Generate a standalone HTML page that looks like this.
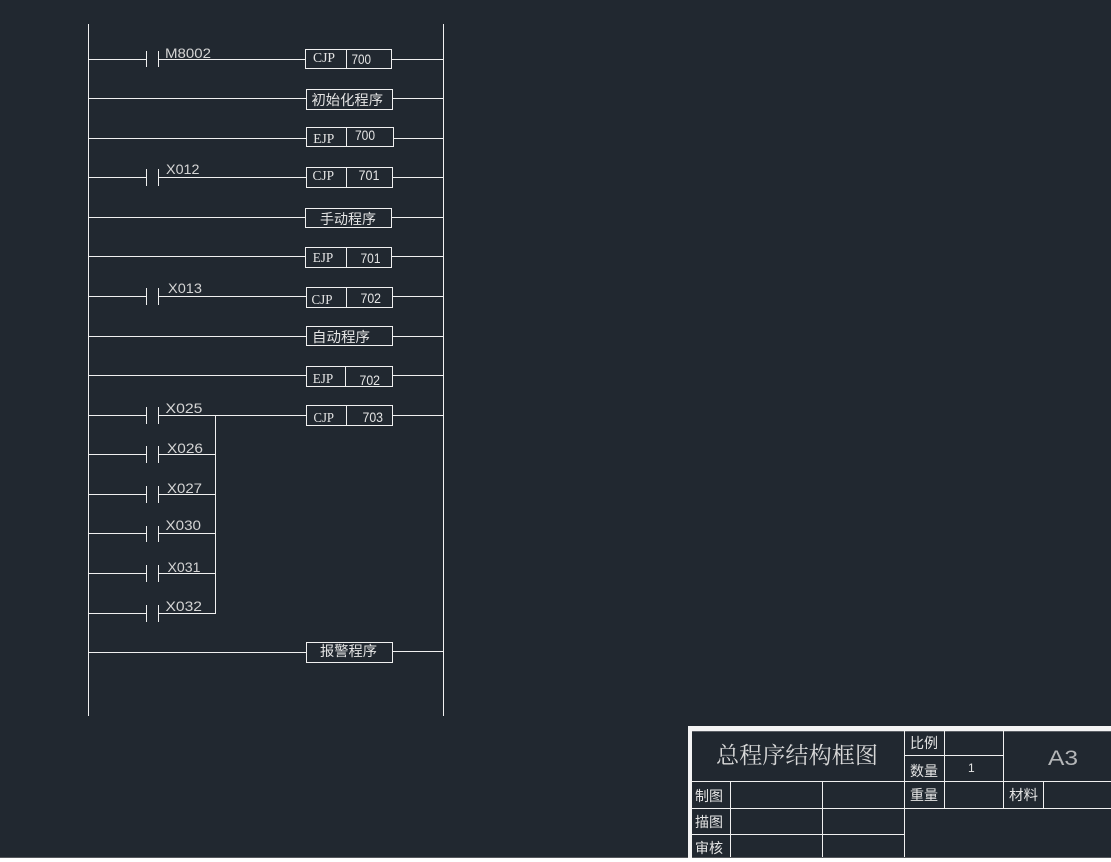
<!DOCTYPE html>
<html lang="zh">
<head>
<meta charset="utf-8">
<title>总程序结构框图</title>
<style>
html,body{margin:0;padding:0;background:#212830;width:1111px;height:862px;overflow:hidden}
svg{display:block}
.l{stroke:#f0f0f0;stroke-width:1;fill:none;shape-rendering:crispEdges}
.b{stroke:#f0f0f0;stroke-width:1;fill:#212830;shape-rendering:crispEdges}
text{fill:#e4e4e4}
.s{font-family:"Liberation Sans",sans-serif;font-size:14px;fill:#d4d4d4}
.t{font-family:"Liberation Serif",serif;font-size:14px}
.n{font-family:"Liberation Sans",sans-serif;font-size:13.5px}
.c{font-family:"Liberation Sans","WenQuanYi Zen Hei","Noto Sans CJK SC",sans-serif;font-size:14px}
</style>
</head>
<body>
<svg width="1111" height="862" viewBox="0 0 1111 862" xmlns="http://www.w3.org/2000/svg">
<rect width="1111" height="862" fill="#212830"/>

<!-- bus bars -->
<path class="l" d="M88.5 24V716M443.5 24V716"/>

<!-- rungs -->
<path class="l" d="M88 59.5H146M159 59.5H305M392 59.5H443
M88 98.5H306M393 98.5H443
M88 138.5H306M394 138.5H443
M88 177.5H146M159 177.5H306M393 177.5H443
M88 217.5H305M392 217.5H443
M88 256.5H305M392 256.5H443
M88 296.5H146M159 296.5H306M393 296.5H443
M88 336.5H306M393 336.5H443
M88 375.5H306M393 375.5H443
M88 415.5H146M159 415.5H306M393 415.5H443
M88 454.5H146M159 454.5H215
M88 494.5H146M159 494.5H215
M88 533.5H146M159 533.5H215
M88 573.5H146M159 573.5H215
M88 613.5H146M159 613.5H215
M88 652.5H306M393 651.5H443
M215.5 415V614"/>

<!-- contacts -->
<path class="l" d="M146.5 51V67M158.5 51V67
M146.5 169V186M158.5 169V186
M146.5 288V305M158.5 288V305
M146.5 407V424M158.5 407V424
M146.5 446V463M158.5 446V463
M146.5 486V503M158.5 486V503
M146.5 526V542M158.5 526V542
M146.5 565V582M158.5 565V582
M146.5 605V622M158.5 605V622"/>

<!-- boxes -->
<rect class="b" x="305.5" y="49.5" width="86" height="19"/><path class="l" d="M346.5 49V68"/>
<rect class="b" x="306.5" y="89.5" width="86" height="20"/>
<rect class="b" x="306.5" y="127.5" width="87" height="19"/><path class="l" d="M346.5 127V146"/>
<rect class="b" x="306.5" y="167.5" width="86" height="20"/><path class="l" d="M346.5 167V187"/>
<rect class="b" x="305.5" y="208.5" width="86" height="19"/>
<rect class="b" x="305.5" y="247.5" width="86" height="20"/><path class="l" d="M346.5 247V267"/>
<rect class="b" x="306.5" y="287.5" width="86" height="20"/><path class="l" d="M346.5 287V307"/>
<rect class="b" x="306.5" y="326.5" width="86" height="19"/>
<rect class="b" x="306.5" y="366.5" width="86" height="20"/><path class="l" d="M345.5 366V386"/>
<rect class="b" x="306.5" y="405.5" width="86" height="20"/><path class="l" d="M346.5 405V425"/>
<rect class="b" x="306.5" y="642.5" width="86" height="20"/>

<!-- contact labels -->
<text class="s" x="165" y="58" textLength="46" lengthAdjust="spacingAndGlyphs">M8002</text>
<text class="s" x="166" y="174" textLength="33.5" lengthAdjust="spacingAndGlyphs">X012</text>
<text class="s" x="168" y="293" textLength="34" lengthAdjust="spacingAndGlyphs">X013</text>
<text class="s" x="165.5" y="413" textLength="37" lengthAdjust="spacingAndGlyphs">X025</text>
<text class="s" x="167" y="453" textLength="36" lengthAdjust="spacingAndGlyphs">X026</text>
<text class="s" x="167" y="493" textLength="35" lengthAdjust="spacingAndGlyphs">X027</text>
<text class="s" x="165.5" y="530" textLength="35.5" lengthAdjust="spacingAndGlyphs">X030</text>
<text class="s" x="167.5" y="572" textLength="33" lengthAdjust="spacingAndGlyphs">X031</text>
<text class="s" x="165.5" y="611" textLength="36.5" lengthAdjust="spacingAndGlyphs">X032</text>

<!-- box labels -->
<text class="t" x="313" y="62" textLength="22" lengthAdjust="spacingAndGlyphs">CJP</text>
<text class="n" x="351.5" y="64" textLength="19.5" lengthAdjust="spacingAndGlyphs">700</text>
<text class="c" x="311.5" y="105" textLength="71.5" lengthAdjust="spacingAndGlyphs">初始化程序</text>
<text class="t" x="313.3" y="143" textLength="21" lengthAdjust="spacingAndGlyphs">EJP</text>
<text class="n" x="355" y="140" textLength="20" lengthAdjust="spacingAndGlyphs">700</text>
<text class="t" x="312.5" y="180" textLength="21.5" lengthAdjust="spacingAndGlyphs">CJP</text>
<text class="n" x="358.5" y="180" textLength="21" lengthAdjust="spacingAndGlyphs">701</text>
<text class="c" x="320" y="224" textLength="56" lengthAdjust="spacingAndGlyphs">手动程序</text>
<text class="t" x="312.7" y="262" textLength="20.5" lengthAdjust="spacingAndGlyphs">EJP</text>
<text class="n" x="360.5" y="263" textLength="20" lengthAdjust="spacingAndGlyphs">701</text>
<text class="t" x="311.5" y="304" textLength="21" lengthAdjust="spacingAndGlyphs">CJP</text>
<text class="n" x="360.5" y="303" textLength="20.5" lengthAdjust="spacingAndGlyphs">702</text>
<text class="c" x="312" y="342" textLength="58" lengthAdjust="spacingAndGlyphs">自动程序</text>
<text class="t" x="312.7" y="383" textLength="20.5" lengthAdjust="spacingAndGlyphs">EJP</text>
<text class="n" x="359.5" y="385" textLength="20.5" lengthAdjust="spacingAndGlyphs">702</text>
<text class="t" x="313.5" y="422" textLength="20.5" lengthAdjust="spacingAndGlyphs">CJP</text>
<text class="n" x="362.5" y="422" textLength="20.5" lengthAdjust="spacingAndGlyphs">703</text>
<text class="c" x="320" y="656" textLength="57" lengthAdjust="spacingAndGlyphs">报警程序</text>

<!-- title block -->
<rect x="688" y="726" width="423" height="136" fill="#f4f4f4"/>
<rect x="692" y="731" width="419" height="126" fill="#212830"/>
<rect x="0" y="857" width="688" height="1" fill="#55585c"/>
<rect x="0" y="858" width="688" height="4" fill="#ffffff"/>
<rect x="688" y="858" width="423" height="4" fill="#ffffff"/>
<rect x="692" y="857" width="419" height="1" fill="#55585c"/>
<path d="M692 731.5H1111" stroke="#5c6066" stroke-width="1" shape-rendering="crispEdges"/>
<path class="l" d="M692 781.5H1111M692 808.5H1111M692 834.5H905M905 755.5H1003
M730.5 781V857M822.5 781V857M904.5 731V857M944.5 731V808M1003.5 731V808M1043.5 781V808"/>

<text x="716" y="763" style="font-family:'Liberation Serif','Noto Serif CJK SC',serif;font-size:23px;fill:#d8d8d8" textLength="162" lengthAdjust="spacingAndGlyphs">总程序结构框图</text>
<text class="c" x="910" y="748" textLength="28" lengthAdjust="spacingAndGlyphs">比例</text>
<text class="c" x="910" y="776" textLength="28" lengthAdjust="spacingAndGlyphs">数量</text>
<text class="n" x="968" y="772" style="font-size:12px">1</text>
<text class="s" x="1048" y="765" style="font-size:21px;fill:#b4b6b8" textLength="30" lengthAdjust="spacingAndGlyphs">A3</text>
<text class="c" x="910" y="800" textLength="28" lengthAdjust="spacingAndGlyphs">重量</text>
<text class="c" x="1009" y="800" textLength="29" lengthAdjust="spacingAndGlyphs">材料</text>
<text class="c" x="695" y="801" textLength="28" lengthAdjust="spacingAndGlyphs">制图</text>
<text class="c" x="695" y="827" textLength="28" lengthAdjust="spacingAndGlyphs">描图</text>
<text class="c" x="695" y="853" textLength="28" lengthAdjust="spacingAndGlyphs">审核</text>
</svg>
</body>
</html>
